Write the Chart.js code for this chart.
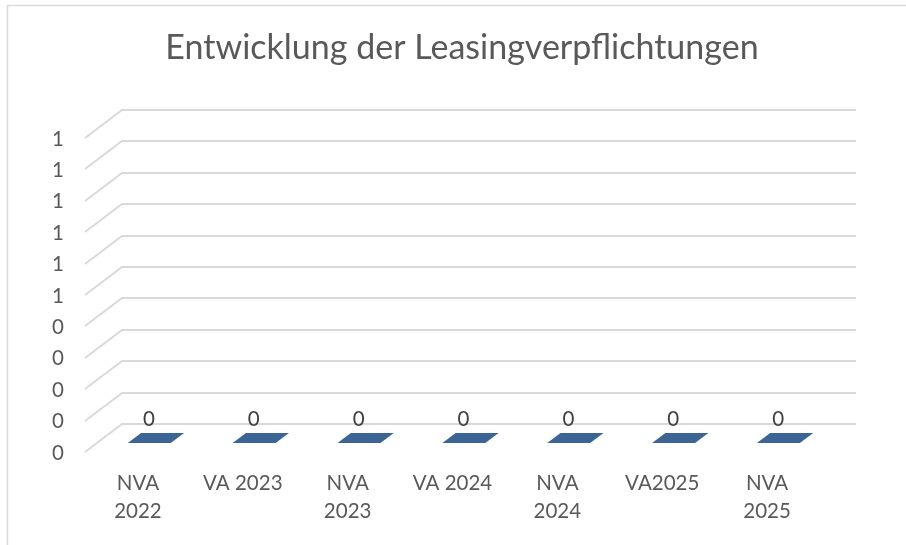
<!DOCTYPE html>
<html>
<head>
<meta charset="utf-8">
<script src="https://cdn.jsdelivr.net/npm/chart.js@4"></script>
<style>
body { margin: 0; background: #fff; }
</style>
</head>
<body>
<canvas id="leasingChart" width="906" height="545"></canvas>
<script>
var categories = [["NVA", "2022"], "VA 2023", ["NVA", "2023"], "VA 2024", ["NVA", "2024"], "VA2025", ["NVA", "2025"]];
var leasingValues = [0, 0, 0, 0, 0, 0, 0];
var yMin = 0, yMax = 1, yStep = 0.1;

// fake 3d depth of the floor / side wall
var depthX = 37, depthY = 28;
var gridColor = '#d9d9d9';
var barColor = '#3c6494';

Chart.defaults.font.family = 'Lato';

function roundLabel(v) {
    return String(Math.round(v + 1e-9));
}

var frame3d = {
    id: 'frame3d',
    beforeDraw: function (chart) {
        var c = chart.ctx;
        c.save();
        c.fillStyle = '#fff';
        c.fillRect(0, 0, chart.width, chart.height);
        c.strokeStyle = gridColor;
        c.lineWidth = 1.5;
        c.beginPath();
        c.moveTo(7.5, chart.height);
        c.lineTo(7.5, 5.5);
        c.lineTo(chart.width, 5.5);
        c.stroke();
        c.restore();
    },
    beforeDatasetsDraw: function (chart) {
        var c = chart.ctx, xs = chart.scales.x, ys = chart.scales.y;
        c.save();
        c.strokeStyle = gridColor;
        c.lineWidth = 2;
        ys.ticks.forEach(function (t) {
            var py = Math.round(ys.getPixelForValue(t.value));
            c.beginPath();
            c.moveTo(xs.left - depthX, py + depthY);
            c.lineTo(xs.left, py);
            c.lineTo(xs.right, py);
            c.stroke();
        });
        c.restore();
    },
    afterDatasetsDraw: function (chart) {
        var c = chart.ctx, ys = chart.scales.y;
        var meta = chart.getDatasetMeta(0);
        var f1 = 0.32, f2 = 0.68;
        c.save();
        meta.data.forEach(function (bar, i) {
            var p = bar.getProps(['x', 'width'], true);
            var v = leasingValues[i];
            var top = ys.getPixelForValue(v), base = ys.getPixelForValue(0);
            var w = p.width, cx = p.x;
            // front face (only visible when value > 0)
            if (base - top > 0.5) {
                c.fillStyle = barColor;
                c.fillRect(cx - w / 2 - f2 * depthX, top + f2 * depthY, w, base - top);
            }
            // top face
            c.fillStyle = barColor;
            c.beginPath();
            c.moveTo(cx - w / 2 - f1 * depthX, top + f1 * depthY);
            c.lineTo(cx + w / 2 - f1 * depthX, top + f1 * depthY);
            c.lineTo(cx + w / 2 - f2 * depthX, top + f2 * depthY);
            c.lineTo(cx - w / 2 - f2 * depthX, top + f2 * depthY);
            c.closePath();
            c.fill();
            // value label
            c.fillStyle = '#404040';
            c.font = '20.5px Lato';
            c.textAlign = 'center';
            c.textBaseline = 'middle';
            c.fillText(roundLabel(v), cx - 25.5, top - 5);
        });
        c.restore();
    }
};

var ctx = document.getElementById('leasingChart').getContext('2d');

var myChart = new Chart(ctx, {
    type: 'bar',
    data: {
        labels: categories,
        datasets: [{
            label: 'Leasingverpflichtungen',
            data: leasingValues,
            backgroundColor: 'rgba(0,0,0,0)',
            borderWidth: 0,
            barPercentage: 0.41,
            categoryPercentage: 1
        }]
    },
    options: {
        responsive: false,
        animation: false,
        layout: { padding: { left: 40, right: 22, top: 0, bottom: 0 } },
        plugins: {
            legend: { display: false },
            tooltip: { enabled: false },
            title: {
                display: true,
                text: 'Entwicklung der Leasingverpflichtungen',
                color: '#595959',
                font: { family: 'Lato', size: 34, weight: 'normal', lineHeight: 1.2 },
                padding: { top: 27.6, bottom: 41.6 }
            }
        },
        scales: {
            x: {
                grid: { display: false, drawTicks: false },
                border: { display: false },
                ticks: {
                    autoSkip: false,
                    maxRotation: 0,
                    minRotation: 0,
                    labelOffset: -36.5,
                    padding: 45,
                    color: '#595959',
                    font: { family: 'Lato', size: 20.5, lineHeight: 1.366 }
                },
                afterFit: function (s) { s.height = 121; }
            },
            y: {
                min: yMin,
                max: yMax,
                grid: { display: false, drawTicks: false },
                border: { display: false },
                ticks: {
                    stepSize: yStep,
                    padding: 58,
                    labelOffset: 29,
                    color: '#595959',
                    font: { family: 'Lato', size: 20.5 },
                    callback: function (v) { return roundLabel(v); }
                },
                afterFit: function (s) { s.width = 82; }
            },
            // empty spacer on the right so the plot ends where excel's did
            spacer: {
                type: 'linear',
                position: 'right',
                grid: { display: false },
                border: { display: false },
                ticks: { display: false },
                afterFit: function (s) { s.width = 28; }
            }
        }
    },
    plugins: [frame3d]
});
</script>
</body>
</html>
